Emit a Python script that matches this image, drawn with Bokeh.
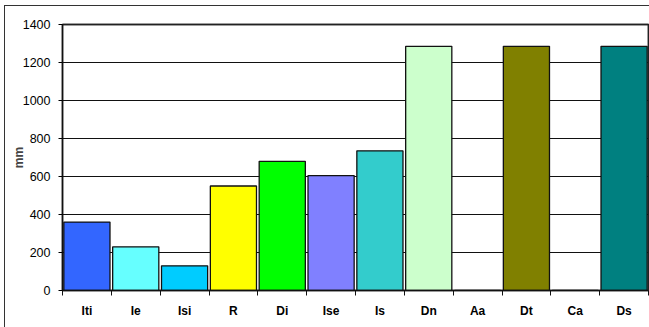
import numpy as np
from bokeh.plotting import figure
from bokeh.models import FixedTicker, ColumnDataSource, LinearAxis, InlineStyleSheet
from bokeh.embed import file_html
from bokeh.resources import INLINE

categories = ["Iti", "Ie", "Isi", "R", "Di", "Ise", "Is", "Dn", "Aa", "Dt", "Ca", "Ds"]
values_mm = [360, 230, 130, 550, 680, 605, 735, 1285, 0, 1285, 0, 1285]
bar_colors = ["#3366FF", "#66FFFF", "#00CCFF", "#FFFF00", "#00FF00", "#8080FF",
              "#33CCCC", "#CCFFCC", "#FFFFFF", "#808000", "#FFFFFF", "#008080"]
y_ticks = [0, 200, 400, 600, 800, 1000, 1200, 1400]

n = len(categories)
xpos = np.arange(n) + 0.5
src = ColumnDataSource(dict(x=xpos, top=values_mm, color=bar_colors,
                            cat=categories))

FONT = "Liberation Sans"
LINE = "#222"

p = figure(width=649, height=327, x_range=(0, n), y_range=(0, 1400),
           output_backend="svg", toolbar_location=None,
           min_border_left=62, min_border_top=24, min_border_right=1,
           min_border_bottom=37)
p.background_fill_color = "white"
p.border_fill_color = "white"
p.outline_line_color = LINE
p.outline_line_width = 1.5

# outer chart border (pure CSS, does not affect layout)
p.stylesheets = [InlineStyleSheet(css="""
:host { position: relative; }
:host::after {
  content: ''; position: absolute; left: 4px; top: 5px;
  width: 660px; height: 340px; border: 1.5px solid #333;
  pointer-events: none; box-sizing: content-box;
}
""")]

p.vbar(x="x", top="top", width=0.945, bottom=0, fill_color="color",
       line_color="#111", line_width=1.3, source=src)

# grid
p.xgrid.visible = False
p.ygrid.grid_line_color = "#111"
p.ygrid.grid_line_width = 1
p.ygrid.ticker = FixedTicker(ticks=y_ticks)

xa = p.xaxis[0]
ya = p.yaxis[0]

# y axis
ya.ticker = FixedTicker(ticks=y_ticks)
ya.axis_line_color = "#111"
ya.axis_line_width = 1.5
ya.major_tick_in = 0
ya.major_tick_out = 4
ya.minor_tick_line_color = None
ya.major_label_text_font = FONT
ya.major_label_text_font_size = "12.5px"
ya.major_label_text_color = "black"
ya.major_label_standoff = 8
ya.axis_label = "mm"
ya.axis_label_text_font = FONT
ya.axis_label_text_font_size = "12px"
ya.axis_label_text_font_style = "bold"
ya.axis_label_standoff = -6

# x axis
xa.ticker = FixedTicker(ticks=list(xpos), minor_ticks=list(range(n + 1)))
xa.major_label_overrides = {float(x): c for x, c in zip(xpos, categories)}
xa.axis_line_color = "#111"
xa.axis_line_width = 1.5
xa.major_tick_in = 0
xa.major_tick_out = 0
xa.minor_tick_in = 0
xa.minor_tick_out = 5
xa.minor_tick_line_color = "#111"
xa.major_label_text_font = FONT
xa.major_label_text_font_size = "12px"
xa.major_label_text_font_style = "bold"
xa.major_label_text_color = "black"
xa.major_label_standoff = 8

# frame edges top/right
for side in ("above", "right"):
    ax = LinearAxis(ticker=FixedTicker(ticks=[]), major_label_text_font_size="0px",
                    major_label_standoff=0,
                    axis_line_color=LINE, axis_line_width=1.5,
                    major_tick_line_color=None, minor_tick_line_color=None)
    p.add_layout(ax, side)

open("out.html", "w").write(file_html(p, INLINE))
